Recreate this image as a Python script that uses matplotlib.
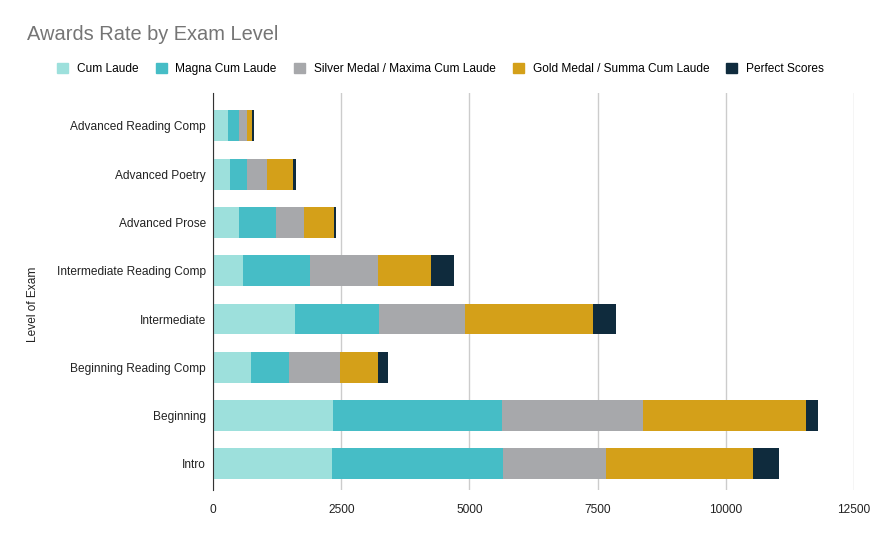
import matplotlib
matplotlib.use("Agg")
import matplotlib.pyplot as plt
from matplotlib.patches import Patch
import numpy as np

plt.rcParams['font.family'] = ['Liberation Sans', 'DejaVu Sans']

# Categories (top to bottom)
levels = ["Advanced Reading Comp", "Advanced Poetry", "Advanced Prose",
          "Intermediate Reading Comp", "Intermediate", "Beginning Reading Comp",
          "Beginning", "Intro"]

# Series values
cum_laude = [284, 323, 499, 581, 1590, 737, 2347, 2330]
magna_cum_laude = [215, 332, 720, 1320, 1655, 736, 3297, 3330]
silver_maxima = [156, 389, 546, 1325, 1676, 994, 2749, 2013]
gold_summa = [111, 513, 604, 1032, 2494, 759, 3177, 2862]
perfect_scores = [39, 52, 33, 442, 441, 189, 234, 501]

series = [
    ("Cum Laude", cum_laude, "#9de0dc"),
    ("Magna Cum Laude", magna_cum_laude, "#46bdc6"),
    ("Silver Medal / Maxima Cum Laude", silver_maxima, "#a7a8ab"),
    ("Gold Medal / Summa Cum Laude", gold_summa, "#d4a019"),
    ("Perfect Scores", perfect_scores, "#0f2b3d"),
]

W, H = 880, 541
fig = plt.figure(figsize=(W / 100, H / 100), dpi=100, facecolor="white")
ax = fig.add_axes([213 / W, (H - 490) / H, 641 / W, 397 / H])

y = np.arange(len(levels))
left = np.zeros(len(levels))
for name, vals, col in series:
    ax.barh(y, vals, left=left, height=0.64, color=col, label=name, zorder=3)
    left += np.array(vals)

ax.set_xlim(0, 12500)
ax.set_ylim(7.54, -0.68)
ax.set_xticks([0, 2500, 5000, 7500, 10000, 12500])
ax.set_xticklabels(["0", "2500", "5000", "7500", "10000", "12500"])
ax.set_yticks(y)
ax.set_yticklabels(levels)
ax.tick_params(axis="both", length=0, labelsize=8.6, colors="#222222")
ax.tick_params(axis="x", pad=10)
ax.tick_params(axis="y", pad=5)
ax.grid(axis="x", color="#cccccc", linewidth=1, zorder=0)
for s in ["top", "right", "bottom"]:
    ax.spines[s].set_visible(False)
ax.spines["left"].set_color("#333333")
ax.spines["left"].set_zorder(4)

fig.text(33 / W, 1 - 304 / H, "Level of Exam", rotation=90, fontsize=8.6,
         color="#222222", ha="center", va="center")

fig.text(27 / W, 1 - 34 / H, "Awards Rate by Exam Level", fontsize=14.4,
         color="#757575", ha="left", va="center")

handles = [Patch(facecolor=c, edgecolor=c, label=n) for n, _, c in series]
fig.legend(handles=handles, loc="center left", bbox_to_anchor=(57 / W, 1 - 69 / H),
           ncol=5, frameon=False, fontsize=8.6, handlelength=0.92, handleheight=0.92,
           handletextpad=0.75, columnspacing=1.42, borderaxespad=0, borderpad=0)

fig.savefig("out.png", dpi=100, facecolor="white")
